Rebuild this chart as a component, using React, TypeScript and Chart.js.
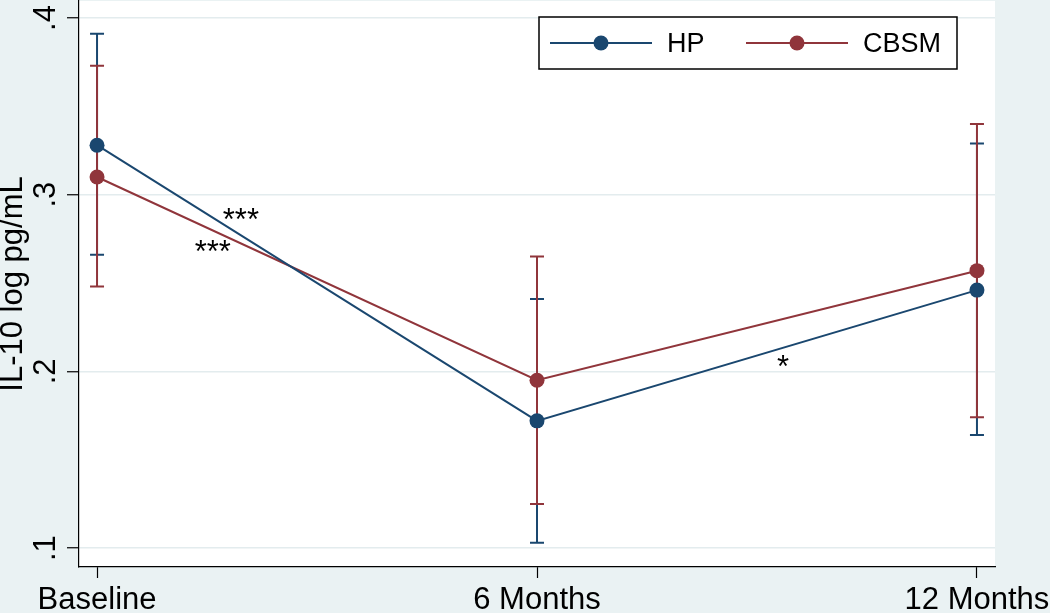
import React, { useEffect, useRef } from 'react';
import { Chart, registerables } from 'chart.js';

Chart.register(...registerables);

const categories = ['Baseline', '6 Months', '12 Months'];
const seriesLabels = ['HP', 'CBSM'];
const hpMean = [0.328, 0.172, 0.246];
const hpLow = [0.266, 0.103, 0.164];
const hpHigh = [0.391, 0.241, 0.329];
const cbsmMean = [0.31, 0.195, 0.257];
const cbsmLow = [0.248, 0.125, 0.174];
const cbsmHigh = [0.373, 0.265, 0.34];
const yTickValues = [0.1, 0.2, 0.3, 0.4];
const yTickLabels = ['.1', '.2', '.3', '.4'];
const yTitle = 'IL-10 log pg/mL';
const annotations = [
  { x: 0.327, y: 0.28, text: '***' },
  { x: 0.263, y: 0.262, text: '***' },
  { x: 1.559, y: 0.197, text: '*' },
];

const FONT = "'Liberation Sans', Arial, Helvetica, sans-serif";
const NAVY = '#1A476F';
const MAROON = '#90353B';
const BG = '#EAF2F3';

const backgroundPlugin = {
  id: 'stataBackground',
  beforeDraw(chart: any) {
    const { ctx, chartArea } = chart;
    ctx.save();
    ctx.fillStyle = BG;
    ctx.fillRect(0, 0, chart.width, chart.height);
    ctx.fillStyle = '#FFFFFF';
    ctx.fillRect(chartArea.left, chartArea.top, chartArea.right - chartArea.left, chartArea.bottom - chartArea.top);
    ctx.restore();
  },
};

const errorBarPlugin = {
  id: 'errorBars',
  beforeDatasetsDraw(chart: any) {
    const { ctx, scales } = chart;
    const xs = scales.x;
    const ys = scales.y;
    ctx.save();
    chart.data.datasets.forEach((ds: any) => {
      ctx.strokeStyle = ds.borderColor;
      ctx.lineWidth = 2;
      ds.errLow.forEach((lo: number, i: number) => {
        const hi = ds.errHigh[i];
        const px = xs.getPixelForValue(i);
        const pLo = ys.getPixelForValue(lo);
        const pHi = ys.getPixelForValue(hi);
        const cap = 7;
        ctx.beginPath();
        ctx.moveTo(px, pLo);
        ctx.lineTo(px, pHi);
        ctx.moveTo(px - cap, pLo);
        ctx.lineTo(px + cap, pLo);
        ctx.moveTo(px - cap, pHi);
        ctx.lineTo(px + cap, pHi);
        ctx.stroke();
      });
    });
    ctx.restore();
  },
};

const annotationPlugin = {
  id: 'starAnnotations',
  afterDatasetsDraw(chart: any) {
    const { ctx, scales } = chart;
    ctx.save();
    ctx.fillStyle = '#000';
    ctx.font = `31px ${FONT}`;
    ctx.textAlign = 'center';
    ctx.textBaseline = 'alphabetic';
    annotations.forEach((a) => {
      ctx.fillText(a.text, scales.x.getPixelForValue(a.x), scales.y.getPixelForValue(a.y));
    });
    ctx.restore();
  },
};

const legendPlugin = {
  id: 'stataLegend',
  afterDraw(chart: any) {
    const { ctx, chartArea } = chart;
    const right = chartArea.right - 38;
    const left = right - 418;
    const top = chartArea.top + 16;
    const h = 52;
    ctx.save();
    ctx.fillStyle = '#FFFFFF';
    ctx.fillRect(left, top, right - left, h);
    ctx.strokeStyle = '#000';
    ctx.lineWidth = 1.5;
    ctx.strokeRect(left, top, right - left, h);
    const cy = top + 26;
    const entryStarts = [left + 11, left + 207];
    chart.data.datasets.forEach((ds: any, i: number) => {
      const x0 = entryStarts[i];
      ctx.strokeStyle = ds.borderColor;
      ctx.lineWidth = 2;
      ctx.beginPath();
      ctx.moveTo(x0, cy);
      ctx.lineTo(x0 + 102, cy);
      ctx.stroke();
      ctx.fillStyle = ds.borderColor;
      ctx.beginPath();
      ctx.arc(x0 + 51, cy, 7.5, 0, Math.PI * 2);
      ctx.fill();
      ctx.fillStyle = '#000';
      ctx.font = `27px ${FONT}`;
      ctx.textAlign = 'left';
      ctx.textBaseline = 'middle';
      ctx.fillText(ds.label, x0 + 117, cy + 2);
    });
    ctx.restore();
  },
};

export default function App() {
  const canvasRef = useRef<HTMLCanvasElement | null>(null);

  useEffect(() => {
    document.body.style.margin = '0';
    const canvas = canvasRef.current;
    if (!canvas) return;
    Chart.defaults.font.family = FONT;

    const makeData = (vals: number[]) => vals.map((v, i) => ({ x: i, y: v }));

    const chart = new Chart(canvas, {
      type: 'line',
      data: {
        datasets: [
          {
            label: seriesLabels[0],
            data: makeData(hpMean),
            borderColor: NAVY,
            backgroundColor: NAVY,
            pointBackgroundColor: NAVY,
            pointBorderWidth: 0,
            pointRadius: 7.5,
            borderWidth: 2,
            tension: 0,
            clip: false,
            errLow: hpLow,
            errHigh: hpHigh,
          } as any,
          {
            label: seriesLabels[1],
            data: makeData(cbsmMean),
            borderColor: MAROON,
            backgroundColor: MAROON,
            pointBackgroundColor: MAROON,
            pointBorderWidth: 0,
            pointRadius: 7.5,
            borderWidth: 2,
            tension: 0,
            clip: false,
            errLow: cbsmLow,
            errHigh: cbsmHigh,
          } as any,
        ],
      },
      options: {
        responsive: false,
        animation: false,
        devicePixelRatio: 1,
        layout: { autoPadding: false, padding: { left: 0, right: 55, top: 1, bottom: 0 } },
        plugins: {
          legend: { display: false },
          title: { display: false },
          tooltip: { enabled: false },
        },
        scales: {
          x: {
            type: 'linear',
            min: -0.041,
            max: 2.041,
            afterBuildTicks: (scale: any) => {
              scale.ticks = categories.map((_, i) => ({ value: i }));
            },
            afterFit: (scale: any) => {
              scale.height = 46;
              scale.paddingLeft = 0;
              scale.paddingRight = 0;
            },
            ticks: {
              autoSkip: false,
              maxRotation: 0,
              minRotation: 0,
              color: '#000',
              padding: 4,
              font: { size: 31, family: FONT },
              callback: (value: any) => categories[value as number] ?? '',
            },
            grid: {
              drawOnChartArea: false,
              drawTicks: true,
              tickLength: 11,
              tickColor: '#000',
              tickWidth: 1.2,
            },
            border: { display: true, color: '#000', width: 1.2 },
          },
          y: {
            type: 'linear',
            min: 0.0893,
            max: 0.4096,
            afterBuildTicks: (scale: any) => {
              scale.ticks = yTickValues.map((v) => ({ value: v }));
            },
            afterFit: (scale: any) => {
              scale.width = 79;
              scale.paddingTop = 0;
              scale.paddingBottom = 0;
            },
            ticks: {
              color: '#000',
              minRotation: 90,
              maxRotation: 90,
              crossAlign: 'center',
              padding: 8,
              font: { size: 31, family: FONT },
              callback: (_v: any, index: number) => yTickLabels[index],
            },
            grid: {
              color: '#E3ECEE',
              lineWidth: 1.5,
              drawTicks: true,
              tickLength: 12,
              tickColor: '#000',
              tickWidth: 1.2,
            },
            border: { display: true, color: '#000', width: 1.2 },
            title: {
              display: true,
              text: yTitle,
              color: '#000',
              font: { size: 31, family: FONT, lineHeight: 0.84 },
              padding: { top: 0, bottom: 0 },
            },
          },
        },
      } as any,
      plugins: [backgroundPlugin, errorBarPlugin, annotationPlugin, legendPlugin],
    });

    return () => {
      chart.destroy();
    };
  }, []);

  return (
    <div style={{ position: 'absolute', left: 0, top: 0, width: 1050, height: 613 }}>
      <canvas ref={canvasRef} width={1050} height={613} style={{ display: 'block' }} />
    </div>
  );
}
